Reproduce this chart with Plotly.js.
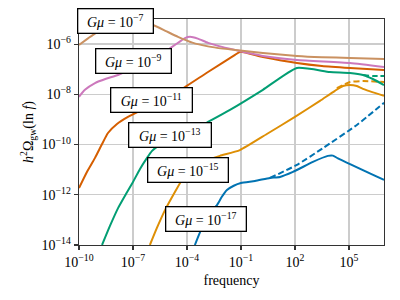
<!DOCTYPE html>
<html>
<head>
<meta charset="utf-8">
<script src="https://cdn.plot.ly/plotly-3.0.1.min.js"></script>
<style>html,body{margin:0;padding:0;background:#fff;}#chart{width:400px;height:300px;}</style>
</head>
<body>
<div id="chart"></div>
<script>
// values are log10(frequency) and log10(h^2 Omega_gw)
const tanLogF   = [-10,-9.5,-9,-8.5,-8,-7.4,-6.8,-6.3,-5.89,-5.2,-4.5,-3.7,-2.83,-2,-1.33,0.22,2.11,3.5,5.06,6.95];
const tanLogO   = [-6.03,-5.77,-5.52,-5.32,-5.17,-5.09,-5.1,-5.15,-5.24,-5.47,-5.71,-5.94,-6.09,-6.18,-6.23,-6.35,-6.47,-6.52,-6.55,-6.59];
const pinkLogF  = [-10,-9.67,-9.11,-8.5,-7.83,-7,-6,-5.2,-4.83,-4.4,-4.11,-3.83,-3.4,-2.83,-2,-1.33,0.22,2.11,5.06,6.95];
const pinkLogO  = [-8.10,-7.82,-7.55,-7.38,-7.23,-6.95,-6.6,-6.3,-6.11,-5.9,-5.76,-5.71,-5.78,-5.95,-6.12,-6.23,-6.47,-6.63,-6.75,-6.91];
const redLogF   = [-10,-9.56,-9.11,-8.72,-8.39,-7.89,-7.28,-6.61,-5.5,-4.11,-2.83,-1.33,-1.06,0.22,2.11,3.5,5.06,6.95];
const redLogO   = [-11.73,-11.09,-10.53,-9.98,-9.54,-9.18,-8.9,-8.66,-8.3,-7.71,-7.11,-6.43,-6.31,-6.51,-6.75,-6.87,-6.95,-7.03];
const greenLogF = [-8.72,-8.28,-7.83,-7.39,-7.0,-6.61,-6.22,-5.94,-5.61,-5.11,-4.39,-3.56,-2.83,-1.61,0.22,2.11,3.94,5.06,5.78,6.33,6.95];
const greenLogO = [-14,-13.24,-12.53,-11.97,-11.49,-10.97,-10.53,-10.25,-10.06,-9.86,-9.62,-9.38,-9.10,-8.62,-7.82,-6.95,-7.11,-7.15,-7.23,-7.39,-7.63];
const greenDashLogF = [5.78,6.33,6.95];
const greenDashLogO = [-7.23,-7.27,-7.27];
const orangeLogF = [-6.06,-5.67,-5.22,-4.67,-4.28,-3.89,-3.44,-2.83,-2.17,-1.06,0.44,2.0,3.39,4.22,4.67,5.06,5.44,5.78,6.95];
const orangeLogO = [-14,-13.32,-12.61,-11.89,-11.41,-11.05,-10.81,-10.61,-10.45,-10.22,-9.58,-8.90,-8.26,-7.86,-7.67,-7.63,-7.67,-7.78,-8.06];
const orangeDashLogF = [4.33,4.67,5.06,5.78,6.95];
const orangeDashLogO = [-7.75,-7.63,-7.51,-7.47,-7.51];
const blueLogF  = [-3.56,-3.22,-2.83,-2.33,-2.06,-1.78,-1.4,-1.0,-0.22,0.61,1.17,1.89,3.0,3.83,4.11,4.39,6.95];
const blueLogO  = [-14,-13.40,-12.80,-12.41,-12.08,-11.81,-11.64,-11.53,-11.45,-11.33,-11.29,-11.09,-10.69,-10.45,-10.44,-10.55,-11.41];
const blueDashLogF = [0.61,2.11,3.56,5.44,6.95];
const blueDashLogO = [-11.33,-10.81,-10.14,-9.22,-8.34];

const labels = ["−7","−9","−11","−13","−15","−17"];
const xTickVals = [1e-10,1e-7,1e-4,1e-1,1e2,1e5];
const xTickText = ["10<sup>−10</sup>","10<sup>−7</sup>","10<sup>−4</sup>","10<sup>−1</sup>","10<sup>2</sup>","10<sup>5</sup>"];
const yTickVals = [1e-14,1e-12,1e-10,1e-8,1e-6];
const yTickText = ["10<sup>−14</sup>","10<sup>−12</sup>","10<sup>−10</sup>","10<sup>−8</sup>","10<sup>−6</sup>"];

const C = {blue:'#0173B2', orange:'#DE8F05', green:'#029E73', red:'#D55E00', pink:'#CC78BC', tan:'#CA9161'};
const p = a => a.map(v => Math.pow(10, v));
function tr(fx, fy, color, dash){
  return {x:p(fx), y:p(fy), type:'scatter', mode:'lines',
    line:{color:color, width:2, dash:dash||'solid', shape:'spline', smoothing:0.5},
    hoverinfo:'skip', showlegend:false};
}
const data = [
  tr(blueLogF, blueLogO, C.blue), tr(blueDashLogF, blueDashLogO, C.blue, '6px,3px'),
  tr(orangeLogF, orangeLogO, C.orange), tr(orangeDashLogF, orangeDashLogO, C.orange, '6px,3px'),
  tr(greenLogF, greenLogO, C.green), tr(greenDashLogF, greenDashLogO, C.green, '6px,3px'),
  tr(redLogF, redLogO, C.red),
  tr(pinkLogF, pinkLogO, C.pink),
  tr(tanLogF, tanLogO, C.tan)
];

const font = {family:'"Liberation Serif", "DejaVu Serif", serif', size:14, color:'#000'};
const boxPos = [[0.1197,0.989,70],[0.1787,0.814,70],[0.238,0.642,76],[0.298,0.485,77],[0.357,0.330,75],[0.416,0.113,75]];
const annotations = labels.map((l,i)=>({
  xref:'paper', yref:'paper', x:boxPos[i][0], y:boxPos[i][1], xanchor:'center', yanchor:'middle',
  text:'<i>Gμ</i> = 10<sup>'+l+'</sup>', showarrow:false, font:font,
  bgcolor:'#fff', bordercolor:'#000', borderwidth:1.3, borderpad:2, width:boxPos[i][2], height:19
}));

const axisCommon = {type:'log', showline:true, linecolor:'#333', linewidth:1.3, mirror:true,
  ticks:'outside', ticklen:4, tickwidth:1.2, tickcolor:'#333', showgrid:true, gridcolor:'#cccccc', gridwidth:1.3,
  zeroline:false, tickfont:font};

const layout = {
  width:400, height:300, margin:{l:79, r:16, t:19, b:55},
  paper_bgcolor:'#fff', plot_bgcolor:'#fff', showlegend:false,
  xaxis: Object.assign({}, axisCommon, {range:[-10, 6.95], tickvals:xTickVals, ticktext:xTickText,
    title:{text:'frequency', font:font, standoff:6}}),
  yaxis: Object.assign({}, axisCommon, {range:[-14, -5], tickvals:yTickVals, ticktext:yTickText,
    title:{text:'<i>h</i><sup>2</sup>Ω<sub>gw</sub>(ln <i>f</i>)', font:font, standoff:4}}),
  annotations: annotations
};
Plotly.newPlot('chart', data, layout, {staticPlot:true, displayModeBar:false});
</script>
</body>
</html>
